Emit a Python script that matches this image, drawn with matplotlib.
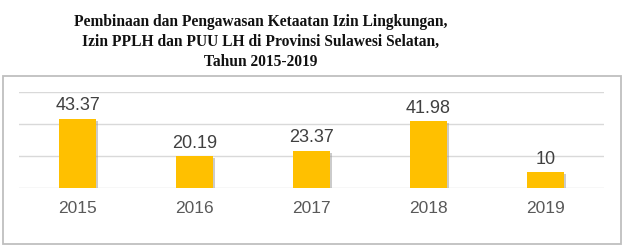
import matplotlib
matplotlib.use("Agg")
import matplotlib.pyplot as plt
from matplotlib.patches import Rectangle
import matplotlib.patheffects as pe

years = ["2015", "2016", "2017", "2018", "2019"]
values = [43.37, 20.19, 23.37, 41.98, 10]
value_labels = ["43.37", "20.19", "23.37", "41.98", "10"]
title = ("Pembinaan dan Pengawasan Ketaatan Izin Lingkungan,\n"
         "Izin PPLH dan PUU LH di Provinsi Sulawesi Selatan,\n"
         "Tahun 2015-2019")

W, H = 628, 250
fig = plt.figure(figsize=(W / 100, H / 100), dpi=100)
fig.patch.set_facecolor("white")

# chart area border
fig.add_artist(Rectangle((2.5 / W, (H - 244) / H), (621 - 2.5) / W, (244 - 76) / H,
                         transform=fig.transFigure, fill=False,
                         edgecolor="#BFBFBF", linewidth=1.3))

fig.text(0.5 * (75 + 447) / W, 1 - 14 / H, title, ha="center", va="top",
         fontsize=11.2, fontweight="bold", family="Liberation Serif",
         linespacing=1.35, color="#111111")

ax = fig.add_axes([19 / W, (H - 188) / H, (604 - 19) / W, (188 - 92) / H])
x = range(len(years))
bars = ax.bar(x, values, width=0.32, color="#FFC000", zorder=3)
for b in bars:
    b.set_path_effects([pe.SimplePatchShadow(offset=(1.5, -1.5), shadow_rgbFace="#999999", alpha=0.5),
                        pe.Normal()])
ax.set_ylim(0, 60)
ax.set_xlim(-0.5, len(years) - 0.5)
ax.set_yticks([0, 20, 40, 60])
ax.yaxis.grid(True, color="#D9D9D9", linewidth=1.0, zorder=0)
ax.set_axisbelow(True)
ax.tick_params(axis="y", left=False, labelleft=False)
ax.tick_params(axis="x", bottom=False, labelsize=12.5, labelcolor="#595959", pad=6)
ax.set_xticks(list(x))
ax.set_xticklabels(years, family="Liberation Sans")
for s in ax.spines.values():
    s.set_visible(False)
for xi, v, lab in zip(x, values, value_labels):
    ax.annotate(lab, (xi, v), xytext=(0, 3), textcoords="offset points",
                ha="center", va="bottom", fontsize=13, color="#404040",
                family="Liberation Sans")

fig.savefig("out.png", dpi=100)
